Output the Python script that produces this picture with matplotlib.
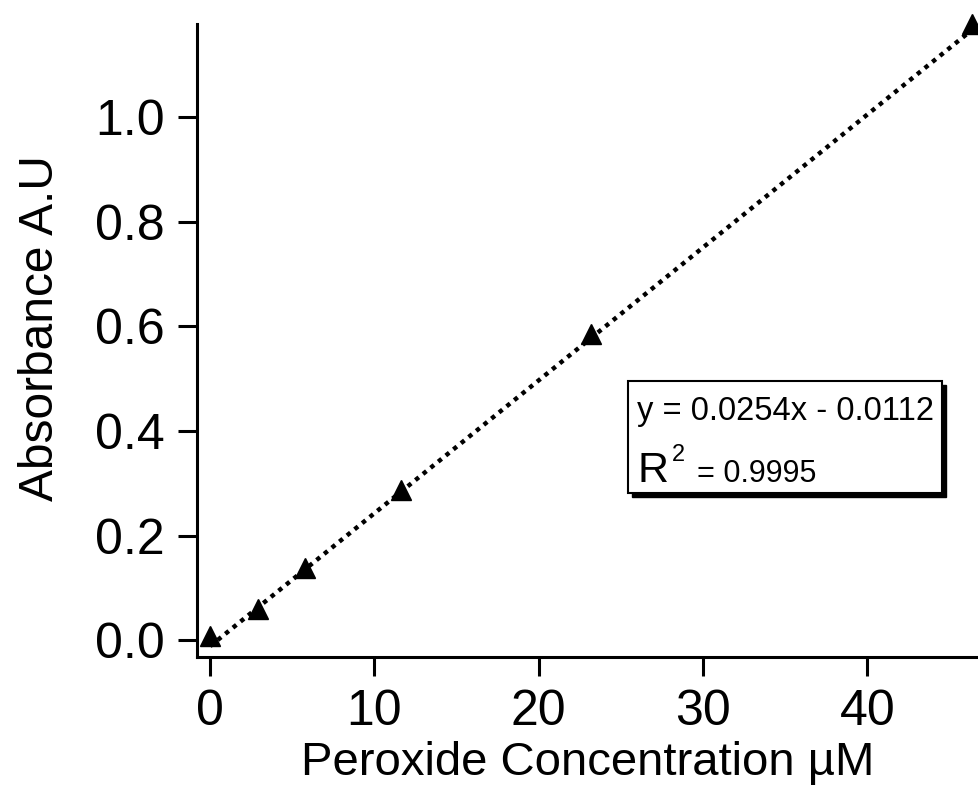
import numpy as np
import matplotlib
matplotlib.use('Agg')
import matplotlib.pyplot as plt
from matplotlib.patches import Rectangle

plt.rcParams['font.family'] = ['Liberation Sans', 'DejaVu Sans']

# data
conc = [0.0, 2.9, 5.8, 11.6, 23.2, 46.4]
absorb = [0.008, 0.059, 0.138, 0.287, 0.585, 1.178]
slope = 0.0254
icept = -0.0112
eq_text = 'y = 0.0254x - 0.0112'
r2_text = '= 0.9995'

fig = plt.figure(figsize=(9.79, 7.99), dpi=100)
ax = fig.add_axes([0.2012, 0.1777, 0.7988, 0.7923])

xfit = np.array([0.0, conc[-1]])
ax.plot(xfit, slope*xfit + icept, color='black', lw=3.2, ls=(0, (1, 1.2)), zorder=2)
ax.plot(conc, absorb, ls='none', marker='^', color='black', ms=15, zorder=3, clip_on=False)

ax.set_xlim(-0.8, 46.8)
ax.set_ylim(-0.032, 1.178)
ax.set_xticks([0, 10, 20, 30, 40])
ax.set_yticks([0.0, 0.2, 0.4, 0.6, 0.8, 1.0])
ax.set_yticklabels(['0.0', '0.2', '0.4', '0.6', '0.8', '1.0'])

for s in ['top', 'right']:
    ax.spines[s].set_visible(False)
for s in ['left', 'bottom']:
    ax.spines[s].set_linewidth(2.2)
ax.tick_params(direction='out', length=14, width=2.2, pad=9, labelsize=36)

ax.set_xlabel('Peroxide Concentration µM', fontsize=34, labelpad=4)
ax.set_ylabel('Absorbance A.U', fontsize=34.5)
ax.yaxis.set_label_coords(-0.171, 0.52)

# equation box with shadow
bx, by, bw, bh = 0.551, 0.259, 0.402, 0.177
shadow = Rectangle((bx + 0.005, by - 0.006), bw, bh, transform=ax.transAxes,
                   facecolor='black', edgecolor='black', zorder=4)
box = Rectangle((bx, by), bw, bh, transform=ax.transAxes,
                facecolor='white', edgecolor='black', lw=1.5, zorder=5)
ax.add_patch(shadow)
ax.add_patch(box)
ax.text(0.563, 0.374, eq_text, transform=ax.transAxes, fontsize=23.5, zorder=6)
ax.text(0.563, 0.276, 'R', transform=ax.transAxes, fontsize=31, zorder=6)
ax.text(0.607, 0.31, '2', transform=ax.transAxes, fontsize=17, zorder=6)
ax.text(0.639, 0.276, r2_text, transform=ax.transAxes, fontsize=22, zorder=6)

fig.savefig('out.png', dpi=100)
